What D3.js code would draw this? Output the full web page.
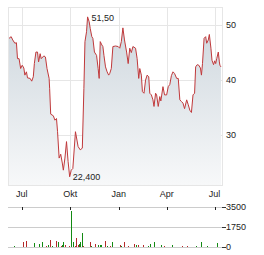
<!DOCTYPE html>
<html>
<head>
<meta charset="utf-8">
<script src="https://cdn.jsdelivr.net/npm/d3@7"></script>
<style>
  body { margin: 0; background: #fff; }
  svg { display: block; font-family: "Liberation Sans", Arial, sans-serif; }
</style>
</head>
<body>
<div id="chart"></div>
<script>
// price series
let priceDates = ["2023-06-05","2023-06-07","2023-06-11","2023-06-14","2023-06-18","2023-06-21","2023-06-23","2023-06-26","2023-06-29","2023-07-02",
  "2023-07-05","2023-07-07","2023-07-10","2023-07-12","2023-07-17","2023-07-20","2023-07-23","2023-07-25","2023-07-28","2023-07-31",
  "2023-08-02","2023-08-05","2023-08-07","2023-08-10","2023-08-12","2023-08-15","2023-08-18","2023-08-22","2023-08-23","2023-08-25",
  "2023-08-30","2023-09-02","2023-09-05","2023-09-07","2023-09-10","2023-09-13","2023-09-16","2023-09-18","2023-09-21","2023-09-24",
  "2023-09-27","2023-09-30","2023-10-03","2023-10-06","2023-10-11","2023-10-16","2023-10-20","2023-10-24","2023-10-27","2023-10-29",
  "2023-11-01","2023-11-03","2023-11-06","2023-11-08","2023-11-11","2023-11-13","2023-11-16","2023-11-20","2023-11-23","2023-11-25",
  "2023-11-27","2023-11-30","2023-12-02","2023-12-04","2023-12-07","2023-12-10","2023-12-13","2023-12-15","2023-12-18","2023-12-21",
  "2023-12-26","2023-12-31","2024-01-03","2024-01-06","2024-01-09","2024-01-12","2024-01-16","2024-01-19","2024-01-22","2024-01-25",
  "2024-01-28","2024-02-02","2024-02-05","2024-02-08","2024-02-10","2024-02-13","2024-02-15","2024-02-18","2024-02-21","2024-02-24",
  "2024-02-27","2024-02-29","2024-03-03","2024-03-06","2024-03-08","2024-03-11","2024-03-13","2024-03-16","2024-03-19","2024-03-21",
  "2024-03-25","2024-03-28","2024-04-01","2024-04-04","2024-04-07","2024-04-10","2024-04-13","2024-04-16","2024-04-20","2024-04-23",
  "2024-04-26","2024-04-29","2024-05-02","2024-05-05","2024-05-09","2024-05-12","2024-05-15","2024-05-18","2024-05-21","2024-05-24",
  "2024-05-26","2024-05-29","2024-06-01","2024-06-04","2024-06-06","2024-06-08","2024-06-11","2024-06-14","2024-06-16","2024-06-19",
  "2024-06-21","2024-06-24","2024-06-26","2024-06-29","2024-07-01","2024-07-03","2024-07-05","2024-07-08","2024-07-10","2024-07-11",
  "2024-07-13"];
let priceValues = [47.6,47.6,47.9,47.3,46.7,46.8,43.9,43.9,42.1,42.7,
  42.2,40.9,41.5,40.4,40.3,39.8,40.6,43.0,45.1,45.1,
  43.3,44.8,43.9,44.2,44.4,44.2,42.1,40.3,38.5,33.8,
  33.5,32.7,33.0,30.6,25.8,26.5,24.9,23.6,25.8,28.8,
  25.2,22.4,23.6,23.9,30.6,27.9,27.3,27.6,38.5,47.0,
  48.8,51.5,50.6,49.4,47.9,47.6,45.1,44.5,42.1,40.3,
  47.0,46.4,46.1,44.5,42.4,41.5,40.9,41.2,42.1,46.1,
  46.2,46.1,45.8,47.0,49.5,47.3,45.1,43.0,45.8,45.0,
  46.1,45.8,43.9,40.3,42.1,40.9,37.9,37.6,40.0,40.9,
  40.6,37.6,37.3,36.4,35.2,37.6,37.3,35.2,37.0,36.2,
  38.8,37.3,37.3,38.8,39.2,40.8,41.5,41.2,40.3,40.3,
  36.4,36.1,35.8,34.8,36.4,35.5,34.5,34.1,37.3,37.6,
  42.4,42.8,42.7,42.2,40.9,43.0,47.6,47.9,46.7,47.3,
  48.3,45.8,43.6,42.8,43.5,43.0,43.9,45.1,43.3,42.7,
  42.4];

// volume series
let volDates = ["2023-06-17","2023-07-04","2023-07-10","2023-07-25","2023-08-03","2023-08-09","2023-08-17","2023-08-20","2023-08-24","2023-08-28",
  "2023-09-04","2023-09-08","2023-09-13","2023-09-16","2023-09-18","2023-09-21","2023-09-29","2023-10-03","2023-10-06","2023-10-10",
  "2023-10-12","2023-10-15","2023-10-17","2023-10-20","2023-10-24","2023-10-26","2023-11-08","2023-11-10","2023-11-17","2023-11-23",
  "2023-11-26","2023-11-29","2023-12-06","2023-12-10","2023-12-15","2023-12-19","2024-01-03","2024-01-06","2024-01-11","2024-01-19",
  "2024-01-30","2024-02-03","2024-02-07","2024-02-16","2024-02-26","2024-03-01","2024-03-08","2024-03-22","2024-03-27","2024-04-11",
  "2024-05-01","2024-05-10","2024-05-26","2024-06-06","2024-06-17","2024-07-05"];
let volValues = [120,420,570,330,240,480,120,150,660,120,
  540,450,120,150,450,210,120,3130,480,120,
  750,180,270,480,1230,120,480,120,240,210,
  150,150,570,120,120,450,150,120,420,120,
  270,150,180,180,120,240,480,180,120,150,
  120,120,90,480,120,330];
let volUp = [1,0,0,1,1,1,0,1,0,1,
  0,1,0,1,1,0,0,1,1,0,
  0,0,1,1,1,0,0,1,0,1,
  1,1,0,1,0,1,0,1,0,0,
  0,1,0,0,1,1,1,1,0,1,
  0,0,1,1,1,1];

let tickDates = ["2023-07-01","2023-10-01","2024-01-01","2024-04-01","2024-07-01"];
let tickLabels = ["Jul","Okt","Jan","Apr","Jul"];
let priceTicks = [30, 40, 50];
let volTicks = [0, 1750, 3500];

let parse = d3.utcParse("%Y-%m-%d");
let fmt = d3.format(".2f");

let width = 264, height = 255;
let margin = { left: 8, right: 42, top: 7 };
let plotRight = width - margin.right;
let priceBottom = 185;
let volTop = 207.3, volBottom = 247;

let data = priceDates.map((d, i) => ({ date: parse(d), value: priceValues[i] }));
let vols = volDates.map((d, i) => ({ date: parse(d), value: volValues[i], up: volUp[i] }));
let ticks = tickDates.map(parse);

let x = d3.scaleUtc()
  .domain([parse("2023-06-05"), parse("2024-07-15")])
  .range([margin.left, plotRight]);
let y = d3.scaleLinear().domain([20.9, 53.3]).range([priceBottom, margin.top]);
let yv = d3.scaleLinear().domain([0, 3500]).range([volBottom, volTop]);

const svg = d3.select("#chart").append("svg")
  .attr("width", width)
  .attr("height", height);

let defs = svg.append("defs");
let grad = defs.append("linearGradient")
  .attr("id", "fillGrad")
  .attr("x1", 0).attr("y1", 0).attr("x2", 0).attr("y2", 1);
grad.append("stop").attr("offset", "0%").attr("stop-color", "#cdd6dd");
grad.append("stop").attr("offset", "100%").attr("stop-color", "#f7f8f9");

// price grid
let grid = svg.append("g")
  .attr("stroke", "#e6e6e6")
  .attr("shape-rendering", "crispEdges");
grid.selectAll("line.h").data(priceTicks).join("line")
  .attr("x1", margin.left).attr("x2", plotRight)
  .attr("y1", d => Math.round(y(d)) + 0.5).attr("y2", d => Math.round(y(d)) + 0.5);
grid.selectAll("line.v").data(ticks).join("line")
  .attr("x1", d => Math.round(x(d)) + 0.5).attr("x2", d => Math.round(x(d)) + 0.5)
  .attr("y1", margin.top).attr("y2", priceBottom);

// area + line
let area = d3.area()
  .x(d => x(d.date))
  .y0(priceBottom)
  .y1(d => y(d.value));
let line = d3.line()
  .x(d => x(d.date))
  .y(d => y(d.value));

svg.append("path")
  .datum(data)
  .attr("fill", "url(#fillGrad)")
  .attr("d", area);

svg.append("path")
  .datum(data)
  .attr("fill", "none")
  .attr("stroke", "#c0393b")
  .attr("stroke-width", 1)
  .attr("stroke-linejoin", "round")
  .attr("d", line);

// frame
svg.append("rect")
  .attr("x", margin.left + 0.5).attr("y", margin.top + 0.5)
  .attr("width", plotRight - margin.left).attr("height", priceBottom - margin.top)
  .attr("fill", "none")
  .attr("stroke", "#e6e6e6")
  .attr("shape-rendering", "crispEdges");

// price axis labels
svg.append("g").selectAll("text").data(priceTicks).join("text")
  .attr("x", plotRight + 4)
  .attr("y", d => y(d))
  .attr("dy", "0.35em")
  .attr("font-size", 9)
  .attr("fill", "#222")
  .text(d => d);

// x labels
svg.append("g").selectAll("text").data(ticks).join("text")
  .attr("x", d => x(d))
  .attr("y", 197)
  .attr("text-anchor", "middle")
  .attr("font-size", 9)
  .attr("fill", "#222")
  .text((d, i) => tickLabels[i]);

// high / low labels
let hi = data.reduce((a, b) => (b.value > a.value ? b : a));
let lo = data.reduce((a, b) => (b.value < a.value ? b : a));
svg.append("text")
  .attr("x", x(hi.date) + 4).attr("y", y(hi.value) + 4)
  .attr("font-size", 9).attr("fill", "#222")
  .text(fmt(hi.value).replace(".", ","));
svg.append("text")
  .attr("x", x(lo.date) + 3).attr("y", y(lo.value) + 3.5)
  .attr("font-size", 9).attr("fill", "#222")
  .text(d3.format(".3f")(lo.value).replace(".", ","));

// volume panel
let vg = svg.append("g").attr("shape-rendering", "crispEdges");
vg.selectAll("line.g").data(volTicks).join("line")
  .attr("x1", margin.left).attr("x2", plotRight)
  .attr("y1", d => Math.round(yv(d)) + 0.5).attr("y2", d => Math.round(yv(d)) + 0.5)
  .attr("stroke", "#cccccc");
vg.selectAll("line.r").data(volTicks).join("line")
  .attr("x1", plotRight).attr("x2", plotRight + 4)
  .attr("y1", d => Math.round(yv(d)) + 0.5).attr("y2", d => Math.round(yv(d)) + 0.5)
  .attr("stroke", "#333");
vg.selectAll("line.t").data(ticks).join("line")
  .attr("x1", d => Math.round(x(d)) + 0.5).attr("x2", d => Math.round(x(d)) + 0.5)
  .attr("y1", Math.round(yv(3500))).attr("y2", Math.round(yv(3500)) + 3)
  .attr("stroke", "#222");

vg.selectAll("rect").data(vols).join("rect")
  .attr("x", d => Math.round(x(d.date)))
  .attr("width", 1)
  .attr("y", d => yv(d.value))
  .attr("height", d => yv(0) - yv(d.value))
  .attr("fill", d => d.up ? "#138a13" : "#b52a2a");

svg.append("g").selectAll("text").data(volTicks).join("text")
  .attr("x", plotRight + 4)
  .attr("y", d => yv(d))
  .attr("dy", "0.35em")
  .attr("font-size", 9)
  .attr("fill", "#222")
  .text(d => d);
</script>
</body>
</html>
